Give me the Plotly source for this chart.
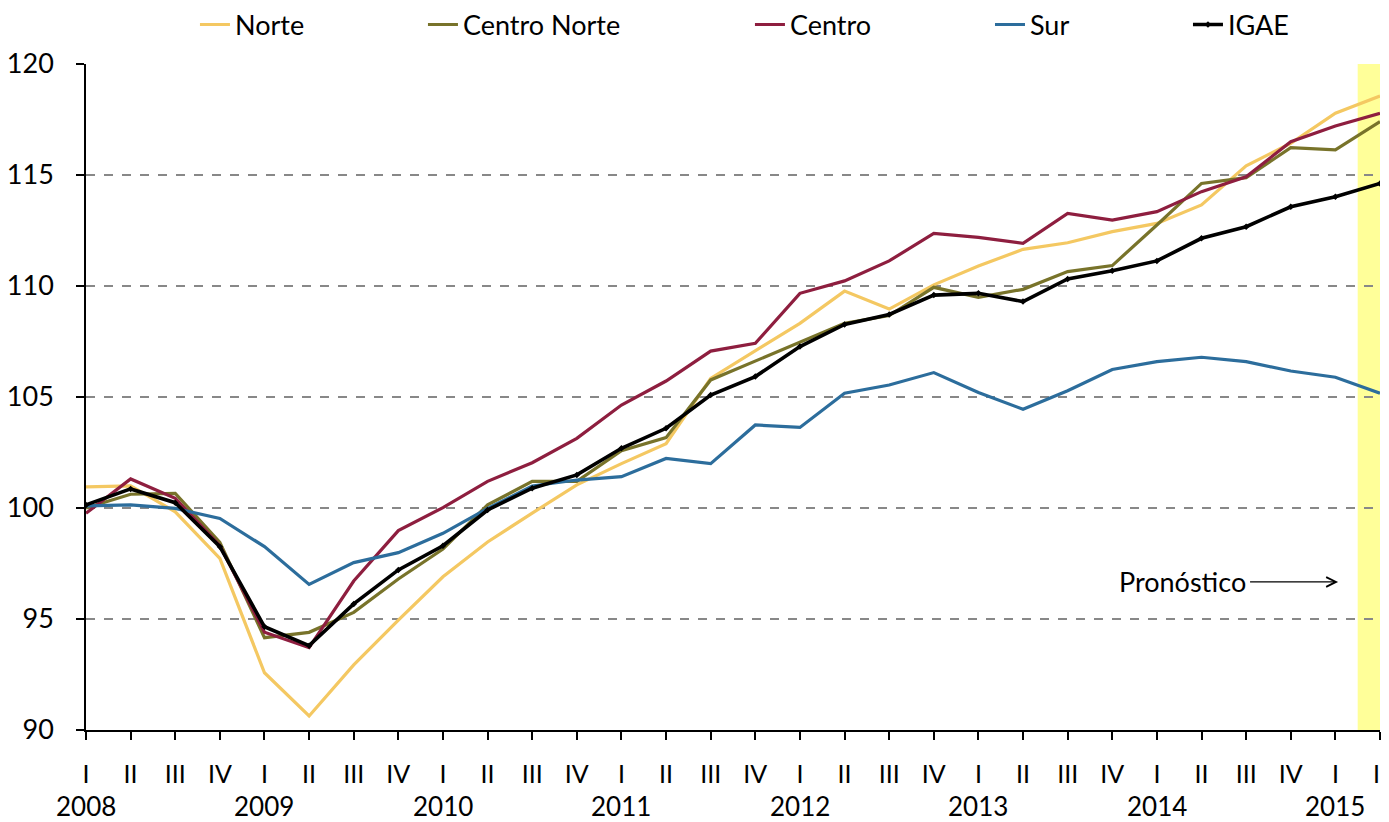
import plotly.graph_objects as go

quarters = ["I", "II", "III", "IV"] * 7 + ["I", "II"]
years = ["2008", "2009", "2010", "2011", "2012", "2013", "2014", "2015"]

norte = [100.95, 101.0, 99.83, 97.73, 92.58, 90.63, 92.93, 94.95, 96.9, 98.47,
         99.77, 101.04, 102.0, 102.9, 105.84, 107.09, 108.32, 109.77, 108.96, 110.05,
         110.9, 111.65, 111.95, 112.45, 112.82, 113.65, 115.41, 116.43, 117.78, 118.56]
centro_norte = [100.0, 100.62, 100.66, 98.45, 94.16, 94.4, 95.3, 96.8, 98.15, 100.14,
                101.2, 101.2, 102.58, 103.17, 105.77, 106.62, 107.5, 108.32, 108.67, 109.94,
                109.49, 109.85, 110.65, 110.92, 112.75, 114.62, 114.88, 116.23, 116.13, 117.4]
centro = [99.76, 101.31, 100.44, 98.3, 94.4, 93.71, 96.71, 98.98, 100.02, 101.2,
          102.04, 103.14, 104.64, 105.72, 107.07, 107.42, 109.67, 110.23, 111.13, 112.37,
          112.19, 111.92, 113.27, 112.97, 113.35, 114.25, 114.92, 116.5, 117.21, 117.78]
sur = [100.1, 100.14, 99.98, 99.53, 98.26, 96.56, 97.54, 97.99, 98.86, 99.98,
       100.99, 101.26, 101.41, 102.23, 102.0, 103.74, 103.63, 105.17, 105.54, 106.1,
       105.2, 104.45, 105.28, 106.24, 106.59, 106.79, 106.59, 106.17, 105.89, 105.17]
igae = [100.14, 100.86, 100.24, 98.26, 94.65, 93.8, 95.68, 97.21, 98.3, 99.91,
        100.89, 101.49, 102.69, 103.59, 105.09, 105.92, 107.27, 108.27, 108.72, 109.59,
        109.67, 109.3, 110.32, 110.69, 111.13, 112.15, 112.67, 113.57, 114.02, 114.62]

x = list(range(len(quarters)))
FONT = "Lato"
FS = 27

series = [
    ("Norte", norte, "#F4C862", "legend"),
    ("Centro Norte", centro_norte, "#78732A", "legend2"),
    ("Centro", centro, "#8E1E3F", "legend3"),
    ("Sur", sur, "#2C6D9C", "legend4"),
]

fig = go.Figure()
for name, vals, col, lg in series:
    fig.add_trace(go.Scatter(x=x, y=vals, name=name, mode="lines",
                             line=dict(color=col, width=3.2), legend=lg))
fig.add_trace(go.Scatter(x=x, y=igae, name="IGAE", mode="lines+markers",
                         line=dict(color="#000000", width=3.6),
                         marker=dict(symbol="diamond", size=5, color="#000000"),
                         legend="legend5"))

leg_common = dict(orientation="h", yanchor="middle", y=1.0586, xanchor="left",
                  bgcolor="rgba(0,0,0,0)", font=dict(family=FONT, size=FS, color="#000"))
legend_x = {"legend": 0.0842, "legend2": 0.2604, "legend3": 0.5131,
            "legend4": 0.6986, "legend5": 0.8516}
layout_legends = {k: dict(leg_common, x=v) for k, v in legend_x.items()}

annotations = []
for i, yr in enumerate(years):
    annotations.append(dict(x=4 * i, y=-0.1141, xref="x", yref="paper", text=yr,
                            showarrow=False, yanchor="middle", xanchor="center",
                            font=dict(family=FONT, size=26, color="#000")))
annotations.append(dict(x=28.06, y=96.67, xref="x", yref="y", text="Pronóstico",
                        showarrow=True, ax=-156, ay=0, arrowhead=5, arrowsize=1.6,
                        arrowwidth=1.2, arrowcolor="#000", standoff=0,
                        borderpad=4,
                        font=dict(family=FONT, size=FS, color="#000")))

# page body has an 8px margin, so the figure is shrunk by 8px and margins shifted
fig.update_layout(
    width=1381, height=814,
    margin=dict(l=78, r=9, t=56, b=92, autoexpand=False),
    plot_bgcolor="white", paper_bgcolor="white",
    font=dict(family=FONT, size=FS, color="#000"),
    showlegend=True,
    annotations=annotations,
    shapes=[dict(type="rect", xref="x", yref="y", x0=28.5, x1=29, y0=90, y1=120,
                 fillcolor="#FFFF99", line=dict(width=0), layer="below")],
    **layout_legends,
)
fig.update_xaxes(range=[0, 29], tickvals=x, ticktext=quarters, showgrid=False,
                 showline=True, linecolor="#000", linewidth=1.5, ticks="outside",
                 ticklen=8, tickcolor="#000", tickwidth=1.5, zeroline=False,
                 automargin=False,
                 ticklabelstandoff=13, tickfont=dict(family=FONT, size=25, color="#000"))
fig.update_yaxes(range=[90, 120], dtick=5, showgrid=True, gridcolor="#888888",
                 griddash="dash", gridwidth=1.5, showline=True, linecolor="#000",
                 linewidth=1.5, ticks="outside", ticklen=8, tickcolor="#000",
                 tickwidth=1.5, zeroline=False, ticklabelstandoff=17, automargin=False,
                 tickfont=dict(family=FONT, size=FS, color="#000"))

fig.write_html("out.html")
